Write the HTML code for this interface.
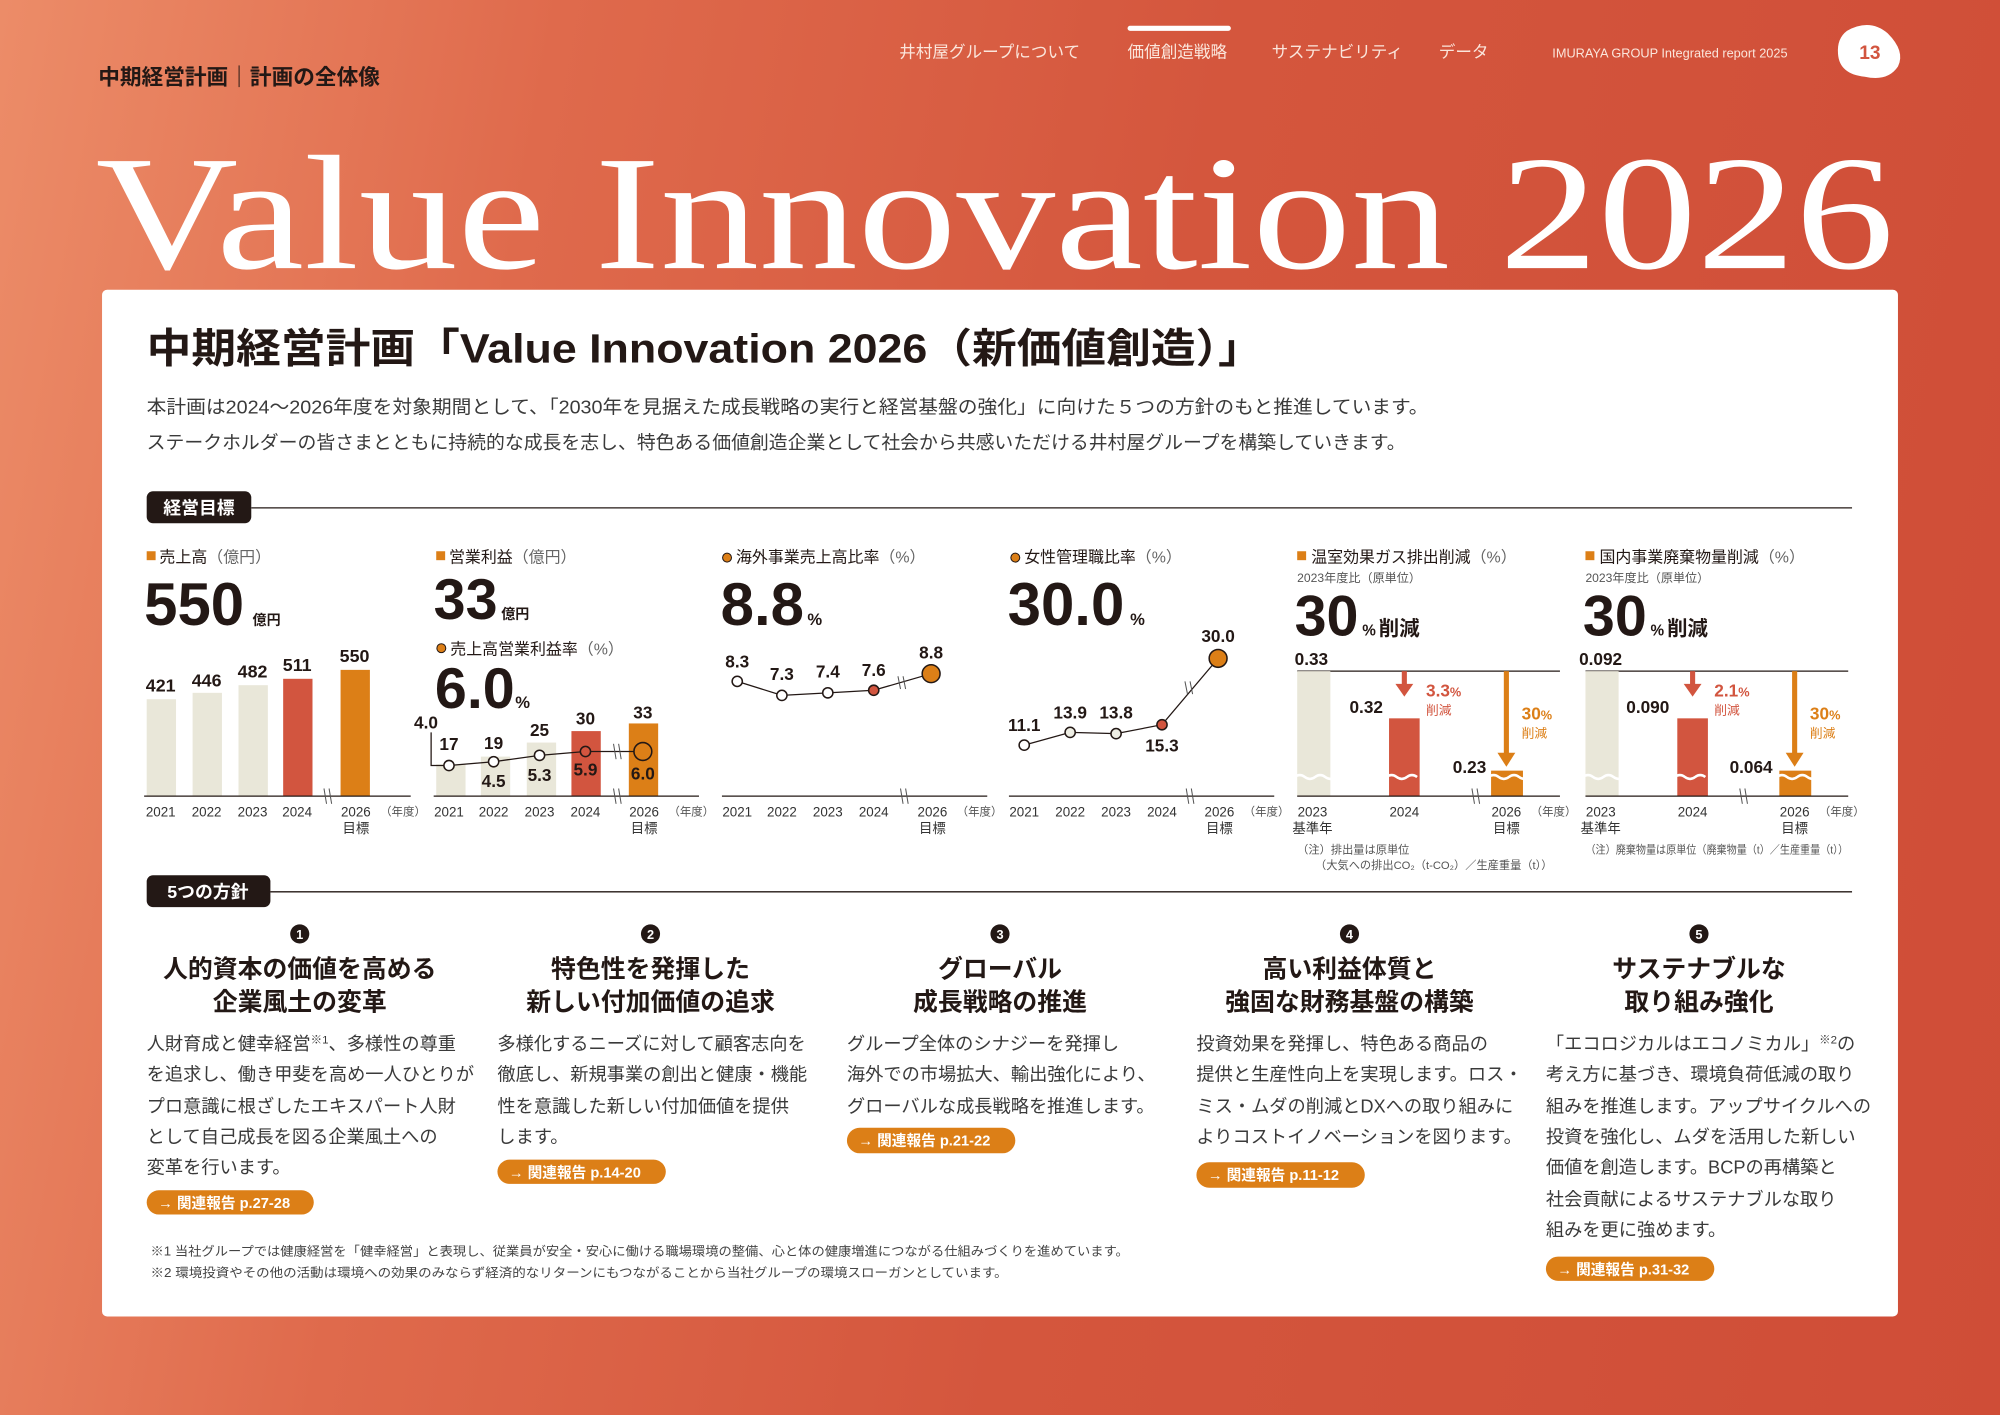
<!DOCTYPE html>
<html><head><meta charset="utf-8">
<style>
html,body{margin:0;padding:0;width:2000px;height:1415px;overflow:hidden}
body{background:linear-gradient(100deg,#ec8c68 0%,#df6a4c 25%,#d4563d 55%,#cf4d37 100%)}
svg{display:block}
text{font-family:"Liberation Sans","Noto Sans CJK JP",sans-serif}
.num{font-family:"Liberation Sans",sans-serif;font-weight:bold;fill:#231815}
.yr{font-size:10.5px;fill:#333}
.sm{font-size:9px;fill:#555}
</style></head>
<body>
<svg width="2000" height="1415" viewBox="0 0 1568 1109" xmlns="http://www.w3.org/2000/svg">
<!-- header -->
<text x="77" y="66" font-size="17" font-weight="bold" fill="#231815">中期経営計画｜計画の全体像</text>
<rect x="884" y="20" width="81" height="4" rx="2" fill="#fff"/>
<g fill="#fbe6dc" font-size="13">
<text x="705" y="45">井村屋グループについて</text>
<text x="884" y="45">価値創造戦略</text>
<text x="997" y="45">サステナビリティ</text>
<text x="1128" y="45">データ</text>
<text x="1217" y="45" font-size="10">IMURAYA GROUP Integrated report 2025</text>
</g>
<path d="M1448 24 Q1466 14 1480 26 Q1494 40 1488 52 Q1480 64 1462 60 Q1442 58 1441 42 Q1440 30 1448 24Z" fill="#fff"/>
<text x="1466" y="46" font-size="15" font-weight="bold" fill="#d2553f" text-anchor="middle">13</text>
<text x="75" y="210" font-size="128" fill="#fff" textLength="1410" lengthAdjust="spacingAndGlyphs" style="font-family:'Liberation Serif',serif">Value Innovation 2026</text>

<!-- card -->
<rect x="80" y="227" width="1408" height="805" rx="4" fill="#fff"/>
<text x="115" y="284" font-size="32" font-weight="bold" fill="#231815" textLength="875" lengthAdjust="spacingAndGlyphs">中期経営計画「Value Innovation 2026（新価値創造）」</text>
<g font-size="14.6" fill="#3a3a3a">
<text x="115" y="324" textLength="1005" lengthAdjust="spacingAndGlyphs">本計画は2024～2026年度を対象期間として、「2030年を見据えた成長戦略の実行と経営基盤の強化」に向けた５つの方針のもと推進しています。</text>
<text x="115" y="352" textLength="987" lengthAdjust="spacingAndGlyphs">ステークホルダーの皆さまとともに持続的な成長を志し、特色ある価値創造企業として社会から共感いただける井村屋グループを構築していきます。</text>
</g>
<rect x="115" y="385" width="82" height="25" rx="5" fill="#231815"/>
<text x="156" y="403" font-size="14" font-weight="bold" fill="#fff" text-anchor="middle">経営目標</text>
<line x1="197" y1="398" x2="1452" y2="398" stroke="#231815" stroke-width="1"/>

<!-- Chart 1 -->
<g>
<rect x="115" y="432" width="7" height="7" fill="#dc7f17"/>
<text x="125" y="441" font-size="12.5" fill="#231815">売上高<tspan fill="#666">（億円）</tspan></text>
<text x="113" y="490" class="num" font-size="47">550</text>
<text x="198" y="490" font-size="11" font-weight="bold" fill="#231815">億円</text>
<rect x="115" y="548" width="23" height="76" fill="#e9e7d9"/>
<rect x="151" y="543" width="23" height="81" fill="#e9e7d9"/>
<rect x="187" y="537" width="23" height="87" fill="#e9e7d9"/>
<rect x="222" y="532" width="23" height="92" fill="#d2553f"/>
<rect x="267" y="525" width="23" height="99" fill="#dc7f17"/>
<g class="num" font-size="14" text-anchor="middle">
<text x="126" y="542">421</text><text x="162" y="538">446</text><text x="198" y="531">482</text><text x="233" y="526">511</text><text x="278" y="519">550</text>
</g>
<line x1="113" y1="624" x2="322" y2="624" stroke="#231815"/>
<path d="M254 618 l2 12 M258 618 l2 12" stroke="#555" stroke-width="0.8"/>
<g class="yr" text-anchor="middle"><text x="126" y="640">2021</text><text x="162" y="640">2022</text><text x="198" y="640">2023</text><text x="233" y="640">2024</text><text x="279" y="640">2026</text><text x="279" y="653">目標</text></g>
<text x="298" y="639" class="sm">（年度）</text>
</g>

<!-- Chart 2 -->
<g>
<rect x="342" y="432" width="7" height="7" fill="#dc7f17"/>
<text x="352" y="441" font-size="12.5" fill="#231815">営業利益<tspan fill="#666">（億円）</tspan></text>
<text x="340" y="485" class="num" font-size="45">33</text>
<text x="393" y="485" font-size="11" font-weight="bold" fill="#231815">億円</text>
<circle cx="346" cy="508" r="3.5" fill="#dc7f17" stroke="#231815" stroke-width="0.8"/>
<text x="353" y="513" font-size="12.5" fill="#231815">売上高営業利益率<tspan fill="#666">（%）</tspan></text>
<text x="341" y="555" class="num" font-size="45">6.0</text>
<text x="404" y="555" font-size="13" font-weight="bold" fill="#231815">%</text>
<rect x="342" y="599" width="23" height="25" fill="#e9e7d9"/>
<rect x="377" y="593" width="23" height="31" fill="#e9e7d9"/>
<rect x="413" y="582" width="23" height="42" fill="#e9e7d9"/>
<rect x="448" y="573" width="23" height="51" fill="#d2553f"/>
<rect x="493" y="567" width="23" height="57" fill="#dc7f17"/>
<polyline points="338,574 338,600 352,600 387,597 423,592 459,589 504,589" fill="none" stroke="#231815" stroke-width="1"/>
<g fill="#fff" stroke="#231815" stroke-width="1.2"><circle cx="352" cy="600" r="4"/><circle cx="387" cy="597" r="4"/><circle cx="423" cy="592" r="4"/><circle cx="459" cy="589" r="4" fill="#d2553f"/><circle cx="504" cy="589" r="7" fill="#dc7f17"/></g>
<g class="num" font-size="13.5" text-anchor="middle">
<text x="334" y="571">4.0</text><text x="352" y="588">17</text><text x="387" y="587">19</text><text x="423" y="577">25</text><text x="459" y="568">30</text><text x="504" y="563">33</text>
<text x="387" y="617">4.5</text><text x="423" y="612">5.3</text><text x="459" y="608">5.9</text><text x="504" y="611">6.0</text>
</g>
<line x1="340" y1="624" x2="548" y2="624" stroke="#231815"/>
<path d="M481 618 l2 12 M485 618 l2 12 M481 583 l2 12 M485 583 l2 12" stroke="#555" stroke-width="0.8"/>
<g class="yr" text-anchor="middle"><text x="352" y="640">2021</text><text x="387" y="640">2022</text><text x="423" y="640">2023</text><text x="459" y="640">2024</text><text x="505" y="640">2026</text><text x="505" y="653">目標</text></g>
<text x="524" y="639" class="sm">（年度）</text>
</g>

<!-- Chart 3 -->
<g>
<circle cx="570" cy="437" r="3.5" fill="#dc7f17" stroke="#231815" stroke-width="0.8"/>
<text x="577" y="441" font-size="12.5" fill="#231815">海外事業売上高比率<tspan fill="#666">（%）</tspan></text>
<text x="565" y="490" class="num" font-size="47">8.8</text>
<text x="633" y="490" font-size="13" font-weight="bold" fill="#231815">%</text>
<polyline points="578,534 613,545 649,543 685,541 730,528" fill="none" stroke="#231815"/>
<g fill="#fff" stroke="#231815" stroke-width="1.2"><circle cx="578" cy="534" r="4"/><circle cx="613" cy="545" r="4"/><circle cx="649" cy="543" r="4"/><circle cx="685" cy="541" r="4" fill="#d2553f"/><circle cx="730" cy="528" r="7" fill="#dc7f17"/></g>
<g class="num" font-size="13.5" text-anchor="middle"><text x="578" y="523">8.3</text><text x="613" y="533">7.3</text><text x="649" y="531">7.4</text><text x="685" y="530">7.6</text><text x="730" y="516">8.8</text></g>
<line x1="566" y1="624" x2="774" y2="624" stroke="#231815"/>
<path d="M706 618 l2 12 M710 618 l2 12 M704 530 l2 10 M708 530 l2 10" stroke="#555" stroke-width="0.8"/>
<g class="yr" text-anchor="middle"><text x="578" y="640">2021</text><text x="613" y="640">2022</text><text x="649" y="640">2023</text><text x="685" y="640">2024</text><text x="731" y="640">2026</text><text x="731" y="653">目標</text></g>
<text x="750" y="639" class="sm">（年度）</text>
</g>

<!-- Chart 4 -->
<g>
<circle cx="796" cy="437" r="3.5" fill="#dc7f17" stroke="#231815" stroke-width="0.8"/>
<text x="803" y="441" font-size="12.5" fill="#231815">女性管理職比率<tspan fill="#666">（%）</tspan></text>
<text x="790" y="490" class="num" font-size="47">30.0</text>
<text x="886" y="490" font-size="13" font-weight="bold" fill="#231815">%</text>
<polyline points="803,584 839,574 875,575 911,568 955,516" fill="none" stroke="#231815"/>
<g fill="#eeeee4" stroke="#231815" stroke-width="1.2"><circle cx="803" cy="584" r="4" fill="#fff"/><circle cx="839" cy="574" r="4"/><circle cx="875" cy="575" r="4"/><circle cx="911" cy="568" r="4" fill="#d2553f"/><circle cx="955" cy="516" r="7" fill="#dc7f17"/></g>
<g class="num" font-size="13.5" text-anchor="middle"><text x="803" y="573">11.1</text><text x="839" y="563">13.9</text><text x="875" y="563">13.8</text><text x="911" y="589">15.3</text><text x="955" y="503">30.0</text></g>
<line x1="791" y1="624" x2="999" y2="624" stroke="#231815"/>
<path d="M930 618 l2 12 M934 618 l2 12 M929 534 l2 10 M933 534 l2 10" stroke="#555" stroke-width="0.8"/>
<g class="yr" text-anchor="middle"><text x="803" y="640">2021</text><text x="839" y="640">2022</text><text x="875" y="640">2023</text><text x="911" y="640">2024</text><text x="956" y="640">2026</text><text x="956" y="653">目標</text></g>
<text x="975" y="639" class="sm">（年度）</text>
</g>

<!-- Chart 5 -->
<g>
<rect x="1017" y="432" width="7" height="7" fill="#dc7f17"/>
<text x="1028" y="441" font-size="12.5" fill="#231815">温室効果ガス排出削減<tspan fill="#666">（%）</tspan></text>
<text x="1017" y="456" font-size="9.5" fill="#555">2023年度比（原単位）</text>
<text x="1015" y="498" class="num" font-size="45">30</text>
<text x="1068" y="498" font-size="12" font-weight="bold" fill="#231815">%</text>
<text x="1081" y="498" font-size="16" font-weight="bold" fill="#231815">削減</text>
<text x="1015" y="521" class="num" font-size="13.5">0.33</text>
<line x1="1017" y1="526" x2="1223" y2="526" stroke="#231815"/>
<rect x="1017" y="526" width="26" height="98" fill="#e9e7d9"/>
<rect x="1089" y="563" width="24" height="61" fill="#d2553f"/>
<rect x="1169" y="604" width="25" height="20" fill="#dc7f17"/>
<path d="M1015 609 q4 -3 8 0 t8 0 t8 0 t8 0 M1087 609 q4 -3 8 0 t8 0 t8 0 M1167 609 q4 -3 8 0 t8 0 t8 0 t8 0" fill="none" stroke="#fff" stroke-width="2"/>
<line x1="1101" y1="526" x2="1101" y2="538" stroke="#d2553f" stroke-width="4"/><path d="M1094 536 l7 10 l7 -10z" fill="#d2553f"/>
<line x1="1181" y1="526" x2="1181" y2="592" stroke="#dc7f17" stroke-width="4"/><path d="M1174 590 l7 11 l7 -11z" fill="#dc7f17"/>
<text x="1118" y="546" font-size="13.5" font-weight="bold" fill="#d2553f">3.3<tspan font-size="10">%</tspan></text>
<text x="1118" y="560" font-size="10" fill="#d2553f">削減</text>
<text x="1193" y="564" font-size="13.5" font-weight="bold" fill="#dc7f17">30<tspan font-size="10">%</tspan></text>
<text x="1193" y="578" font-size="10" fill="#dc7f17">削減</text>
<text x="1058" y="559" class="num" font-size="13.5">0.32</text>
<text x="1139" y="606" class="num" font-size="13.5">0.23</text>
<line x1="1017" y1="624" x2="1223" y2="624" stroke="#231815"/>
<path d="M1154 618 l2 12 M1158 618 l2 12" stroke="#555" stroke-width="0.8"/>
<g class="yr" text-anchor="middle"><text x="1029" y="640">2023</text><text x="1029" y="653">基準年</text><text x="1101" y="640">2024</text><text x="1181" y="640">2026</text><text x="1181" y="653">目標</text></g>
<text x="1200" y="639" class="sm">（年度）</text>
<text x="1017" y="669" font-size="8.8" fill="#555">（注）排出量は原単位</text>
<text x="1031" y="681" font-size="8.8" fill="#555">（大気への排出CO₂（t-CO₂）／生産重量（t））</text>
</g>

<!-- Chart 6 -->
<g transform="translate(226,0)">
<rect x="1017" y="432" width="7" height="7" fill="#dc7f17"/>
<text x="1028" y="441" font-size="12.5" fill="#231815">国内事業廃棄物量削減<tspan fill="#666">（%）</tspan></text>
<text x="1017" y="456" font-size="9.5" fill="#555">2023年度比（原単位）</text>
<text x="1015" y="498" class="num" font-size="45">30</text>
<text x="1068" y="498" font-size="12" font-weight="bold" fill="#231815">%</text>
<text x="1081" y="498" font-size="16" font-weight="bold" fill="#231815">削減</text>
<text x="1012" y="521" class="num" font-size="13.5">0.092</text>
<line x1="1017" y1="526" x2="1223" y2="526" stroke="#231815"/>
<rect x="1017" y="526" width="26" height="98" fill="#e9e7d9"/>
<rect x="1089" y="563" width="24" height="61" fill="#d2553f"/>
<rect x="1169" y="604" width="25" height="20" fill="#dc7f17"/>
<path d="M1015 609 q4 -3 8 0 t8 0 t8 0 t8 0 M1087 609 q4 -3 8 0 t8 0 t8 0 M1167 609 q4 -3 8 0 t8 0 t8 0 t8 0" fill="none" stroke="#fff" stroke-width="2"/>
<line x1="1101" y1="526" x2="1101" y2="538" stroke="#d2553f" stroke-width="4"/><path d="M1094 536 l7 10 l7 -10z" fill="#d2553f"/>
<line x1="1181" y1="526" x2="1181" y2="592" stroke="#dc7f17" stroke-width="4"/><path d="M1174 590 l7 11 l7 -11z" fill="#dc7f17"/>
<text x="1118" y="546" font-size="13.5" font-weight="bold" fill="#d2553f">2.1<tspan font-size="10">%</tspan></text>
<text x="1118" y="560" font-size="10" fill="#d2553f">削減</text>
<text x="1193" y="564" font-size="13.5" font-weight="bold" fill="#dc7f17">30<tspan font-size="10">%</tspan></text>
<text x="1193" y="578" font-size="10" fill="#dc7f17">削減</text>
<text x="1049" y="559" class="num" font-size="13.5">0.090</text>
<text x="1130" y="606" class="num" font-size="13.5">0.064</text>
<line x1="1017" y1="624" x2="1223" y2="624" stroke="#231815"/>
<path d="M1138 618 l2 12 M1142 618 l2 12" stroke="#555" stroke-width="0.8"/>
<g class="yr" text-anchor="middle"><text x="1029" y="640">2023</text><text x="1029" y="653">基準年</text><text x="1101" y="640">2024</text><text x="1181" y="640">2026</text><text x="1181" y="653">目標</text></g>
<text x="1200" y="639" class="sm">（年度）</text>
<text x="1017" y="669" font-size="8.8" fill="#555" textLength="206" lengthAdjust="spacingAndGlyphs">（注）廃棄物量は原単位（廃棄物量（t）／生産重量（t））</text>
</g>

<!-- 5 policies -->
<rect x="115" y="686" width="97" height="25" rx="5" fill="#231815"/>
<text x="163" y="704" font-size="14" font-weight="bold" fill="#fff" text-anchor="middle">5つの方針</text>
<line x1="212" y1="699" x2="1452" y2="699" stroke="#231815"/>

<g font-size="19.5" font-weight="bold" fill="#231815" text-anchor="middle">
<circle cx="235" cy="732" r="7.5" fill="#231815"/><text x="235" y="736" font-size="10" fill="#fff">1</text>
<text x="235" y="766">人的資本の価値を高める</text><text x="235" y="792">企業風土の変革</text>
<circle cx="510" cy="732" r="7.5" fill="#231815"/><text x="510" y="736" font-size="10" fill="#fff">2</text>
<text x="510" y="766">特色性を発揮した</text><text x="510" y="792">新しい付加価値の追求</text>
<circle cx="784" cy="732" r="7.5" fill="#231815"/><text x="784" y="736" font-size="10" fill="#fff">3</text>
<text x="784" y="766">グローバル</text><text x="784" y="792">成長戦略の推進</text>
<circle cx="1058" cy="732" r="7.5" fill="#231815"/><text x="1058" y="736" font-size="10" fill="#fff">4</text>
<text x="1058" y="766">高い利益体質と</text><text x="1058" y="792">強固な財務基盤の構築</text>
<circle cx="1332" cy="732" r="7.5" fill="#231815"/><text x="1332" y="736" font-size="10" fill="#fff">5</text>
<text x="1332" y="766">サステナブルな</text><text x="1332" y="792">取り組み強化</text>
</g>

<g font-size="14.3" fill="#3a3a3a">
<text x="115" y="823">人財育成と健幸経営<tspan font-size="9" dy="-5">※1</tspan><tspan dy="5">、多様性の尊重</tspan></text>
<text x="115" y="847">を追求し、働き甲斐を高め一人ひとりが</text>
<text x="115" y="872">プロ意識に根ざしたエキスパート人財</text>
<text x="115" y="896">として自己成長を図る企業風土への</text>
<text x="115" y="920">変革を行います。</text>

<text x="390" y="823">多様化するニーズに対して顧客志向を</text>
<text x="390" y="847">徹底し、新規事業の創出と健康・機能</text>
<text x="390" y="872">性を意識した新しい付加価値を提供</text>
<text x="390" y="896">します。</text>

<text x="664" y="823">グループ全体のシナジーを発揮し</text>
<text x="664" y="847">海外での市場拡大、輸出強化により、</text>
<text x="664" y="872">グローバルな成長戦略を推進します。</text>

<text x="938" y="823">投資効果を発揮し、特色ある商品の</text>
<text x="938" y="847">提供と生産性向上を実現します。ロス・</text>
<text x="938" y="872">ミス・ムダの削減とDXへの取り組みに</text>
<text x="938" y="896">よりコストイノベーションを図ります。</text>

<text x="1212" y="823">「エコロジカルはエコノミカル」<tspan font-size="9" dy="-5">※2</tspan><tspan dy="5">の</tspan></text>
<text x="1212" y="847">考え方に基づき、環境負荷低減の取り</text>
<text x="1212" y="872">組みを推進します。アップサイクルへの</text>
<text x="1212" y="896">投資を強化し、ムダを活用した新しい</text>
<text x="1212" y="920">価値を創造します。BCPの再構築と</text>
<text x="1212" y="945">社会貢献によるサステナブルな取り</text>
<text x="1212" y="969">組みを更に強めます。</text>
</g>

<g font-size="11.5" font-weight="bold" fill="#fff">
<rect x="115" y="933" width="131" height="19" rx="9.5" fill="#dc7f17"/><text x="124" y="947">→ 関連報告 p.27-28</text>
<rect x="390" y="909" width="132" height="19" rx="9.5" fill="#dc7f17"/><text x="399" y="923">→ 関連報告 p.14-20</text>
<rect x="664" y="884" width="132" height="20" rx="10" fill="#dc7f17"/><text x="673" y="898">→ 関連報告 p.21-22</text>
<rect x="938" y="911" width="132" height="20" rx="10" fill="#dc7f17"/><text x="947" y="925">→ 関連報告 p.11-12</text>
<rect x="1212" y="985" width="132" height="19" rx="9.5" fill="#dc7f17"/><text x="1221" y="999">→ 関連報告 p.31-32</text>
</g>

<g font-size="10" fill="#444">
<text x="118" y="984" textLength="767" lengthAdjust="spacingAndGlyphs">※1 当社グループでは健康経営を「健幸経営」と表現し、従業員が安全・安心に働ける職場環境の整備、心と体の健康増進につながる仕組みづくりを進めています。</text>
<text x="118" y="1001" textLength="672" lengthAdjust="spacingAndGlyphs">※2 環境投資やその他の活動は環境への効果のみならず経済的なリターンにもつながることから当社グループの環境スローガンとしています。</text>
</g>
</svg>
</body></html>
